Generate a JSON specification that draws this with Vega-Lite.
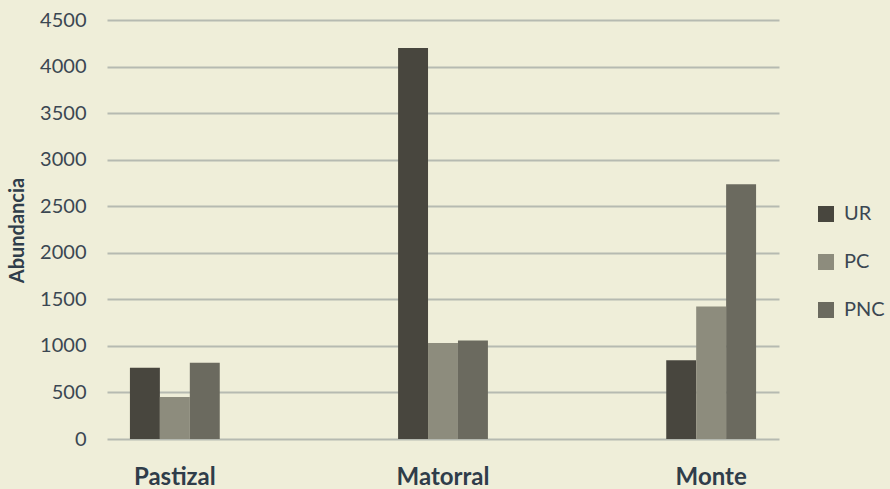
{
  "$schema": "https://vega.github.io/schema/vega-lite/v6.json",
  "width": 672,
  "height": 419,
  "autosize": {"type": "none"},
  "padding": {"left": 107, "top": 20, "right": 111, "bottom": 50},
  "background": "#efeed9",
  "config": {
    "view": {"stroke": null},
    "font": "Lato"
  },
  "data": {
    "values": [
      {"habitat": "Pastizal", "grupo": "UR", "abundancia": 765},
      {"habitat": "Pastizal", "grupo": "PC", "abundancia": 450},
      {"habitat": "Pastizal", "grupo": "PNC", "abundancia": 820},
      {"habitat": "Matorral", "grupo": "UR", "abundancia": 4200},
      {"habitat": "Matorral", "grupo": "PC", "abundancia": 1030},
      {"habitat": "Matorral", "grupo": "PNC", "abundancia": 1058},
      {"habitat": "Monte", "grupo": "UR", "abundancia": 845},
      {"habitat": "Monte", "grupo": "PC", "abundancia": 1422},
      {"habitat": "Monte", "grupo": "PNC", "abundancia": 2737}
    ]
  },
  "mark": {"type": "bar"},
  "encoding": {
    "x": {
      "field": "habitat",
      "type": "nominal",
      "sort": ["Pastizal", "Matorral", "Monte"],
      "scale": {"paddingInner": 0.665, "paddingOuter": 0.0855},
      "axis": {
        "title": null,
        "labelAngle": 0,
        "labelFont": "Lato",
        "labelFontWeight": "bold",
        "labelFontSize": 24,
        "labelColor": "#2f3d4a",
        "labelPadding": 26,
        "ticks": false,
        "domain": false
      }
    },
    "xOffset": {
      "field": "grupo",
      "type": "nominal",
      "sort": ["UR", "PC", "PNC"],
      "scale": {"paddingInner": 0, "paddingOuter": 0}
    },
    "y": {
      "field": "abundancia",
      "type": "quantitative",
      "scale": {"domain": [0, 4500], "nice": false},
      "axis": {
        "title": "Abundancia",
        "titleFont": "Lato",
        "titleFontWeight": "bold",
        "titleFontSize": 20,
        "titleColor": "#2f3d4a",
        "titleX": -80,
        "titleY": 210,
        "titleBaseline": "bottom",
        "titleAlign": "center",
        "values": [0, 500, 1000, 1500, 2000, 2500, 3000, 3500, 4000, 4500],
        "format": "d",
        "labelFont": "Lato",
        "labelFontSize": 20,
        "labelColor": "#3b4752",
        "labelPadding": 21,
        "ticks": false,
        "domain": false,
        "grid": true,
        "gridColor": "#b6bab1",
        "gridWidth": 2,
        "gridOpacity": 1
      }
    },
    "color": {
      "field": "grupo",
      "type": "nominal",
      "sort": ["UR", "PC", "PNC"],
      "scale": {"domain": ["UR", "PC", "PNC"], "range": ["#48463e", "#8d8c7d", "#6b6a5f"]},
      "legend": {
        "title": null,
        "orient": "none",
        "legendX": 709,
        "legendY": 184,
        "symbolType": "square",
        "symbolSize": 256,
        "symbolStrokeWidth": 0,
        "symbolOpacity": 1,
        "labelFont": "Lato",
        "labelFontSize": 20,
        "labelColor": "#3b4752",
        "labelOffset": 8,
        "rowPadding": 28
      }
    }
  }
}
